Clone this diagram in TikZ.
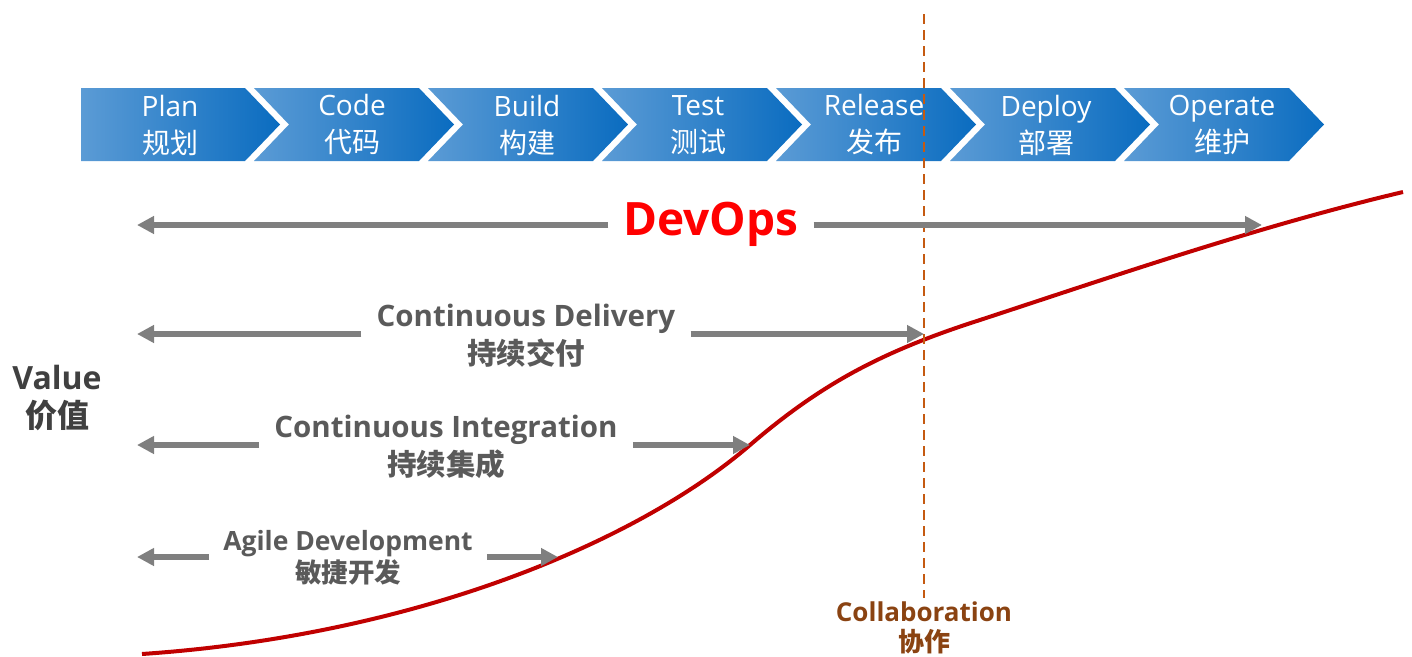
\documentclass[tikz,border=0pt]{standalone}
\usepackage{fontspec}
\setmainfont{Open Sans}
\newfontfamily\zh{Noto Sans CJK SC}
\usetikzlibrary{arrows.meta}
\definecolor{blueL}{HTML}{5B9BD5}
\definecolor{blueD}{HTML}{0A6CC0}
\definecolor{arrowgray}{HTML}{7F7F7F}
\definecolor{labelgray}{HTML}{5A5A5A}
\definecolor{valuegray}{HTML}{404040}
\definecolor{devred}{HTML}{FF0000}
\definecolor{curvered}{HTML}{C00000}
\definecolor{dashorange}{HTML}{C55A11}
\definecolor{collabbrown}{HTML}{8A4312}
\tikzset{
  span/.style={line width=6pt, draw=arrowgray, -{Triangle[length=17pt,width=17pt]}},
  phase/.style={text=white, align=center, font=\fontsize{28}{37}\selectfont},
  practice/.style={text=labelgray, align=center, inner xsep=15pt, inner ysep=0pt,
    font=\bfseries\fontsize{29.5}{38}\selectfont},
  chevron/.style={left color=blueL, right color=blueD},
}
\begin{document}
\begin{tikzpicture}[x=1pt,y=-1pt]
  \useasboundingbox (0,0) rectangle (1412,656);
  % stages
  \shade[chevron] (81,88) -- (245,88) -- (280,124.5) -- (245,161) -- (81,161) -- cycle;
  \foreach \i in {1,...,6}
    \shade[chevron] ({80+174*\i},88) -- ({245+174*\i},88) -- ({280+174*\i},124.5)
      -- ({245+174*\i},161) -- ({80+174*\i},161) -- ({115+174*\i},124.5) -- cycle;
  \foreach \x/\en/\cn [count=\i] in {170/Plan/规划, 352/Code/代码, 527/Build/构建,
      698/Test/测试, 874/Release/发布, 1046/Deploy/部署, 1222/Operate/维护}
    \node[phase] (stage\i) at (\x,125) {\en\\{\zh\cn}};
  % value curve
  \draw[curvered, line width=4pt] (142,654) .. controls (420,635) and (640,540) .. (750,445)
    .. controls (820,385) and (880,352) .. (980,320)
    .. controls (1120,274) and (1260,226) .. (1403,192);
  % collaboration
  \node[text=collabbrown, align=center, font=\bfseries\fontsize{26}{30}\selectfont]
    (collab) at (924,628) {Collaboration\\{\zh 协作}};
  \coordinate (dashtop) at (924,14);
  \draw[dashorange, line width=2.5pt, dash pattern=on 10pt off 6pt] (dashtop) -- (collab.north);
  % practices
  \node[practice, text=devred, font=\bfseries\fontsize{46}{50}\selectfont] (devops) at (711,224) {DevOps};
  \coordinate (devL) at (137,225);
  \coordinate (devR) at (1262,225);
  \draw[span] (devops.west |- devL) -- (devL);
  \draw[span] (devops.east |- devR) -- (devR);
  \node[practice] (cd) at (526,336) {Continuous Delivery\\{\zh 持续交付}};
  \coordinate (cdL) at (137,334);
  \coordinate (cdR) at (924,334);
  \draw[span] (cd.west |- cdL) -- (cdL);
  \draw[span] (cd.east |- cdR) -- (cdR);
  \node[practice] (ci) at (446,447) {Continuous Integration\\{\zh 持续集成}};
  \coordinate (ciL) at (137,445);
  \coordinate (ciR) at (750,445);
  \draw[span] (ci.west |- ciL) -- (ciL);
  \draw[span] (ci.east |- ciR) -- (ciR);
  \node[practice, inner xsep=14pt, font=\bfseries\fontsize{26.5}{32}\selectfont] (agile) at (348,558)
    {Agile Development\\{\zh 敏捷开发}};
  \coordinate (agL) at (137,557);
  \coordinate (agR) at (558,557);
  \draw[span] (agile.west |- agL) -- (agL);
  \draw[span] (agile.east |- agR) -- (agR);
  % axis label
  \node[text=valuegray, align=center, font=\bfseries\fontsize{32}{38}\selectfont] (value) at (57,398)
    {Value\\{\zh 价值}};
\end{tikzpicture}
\end{document}
